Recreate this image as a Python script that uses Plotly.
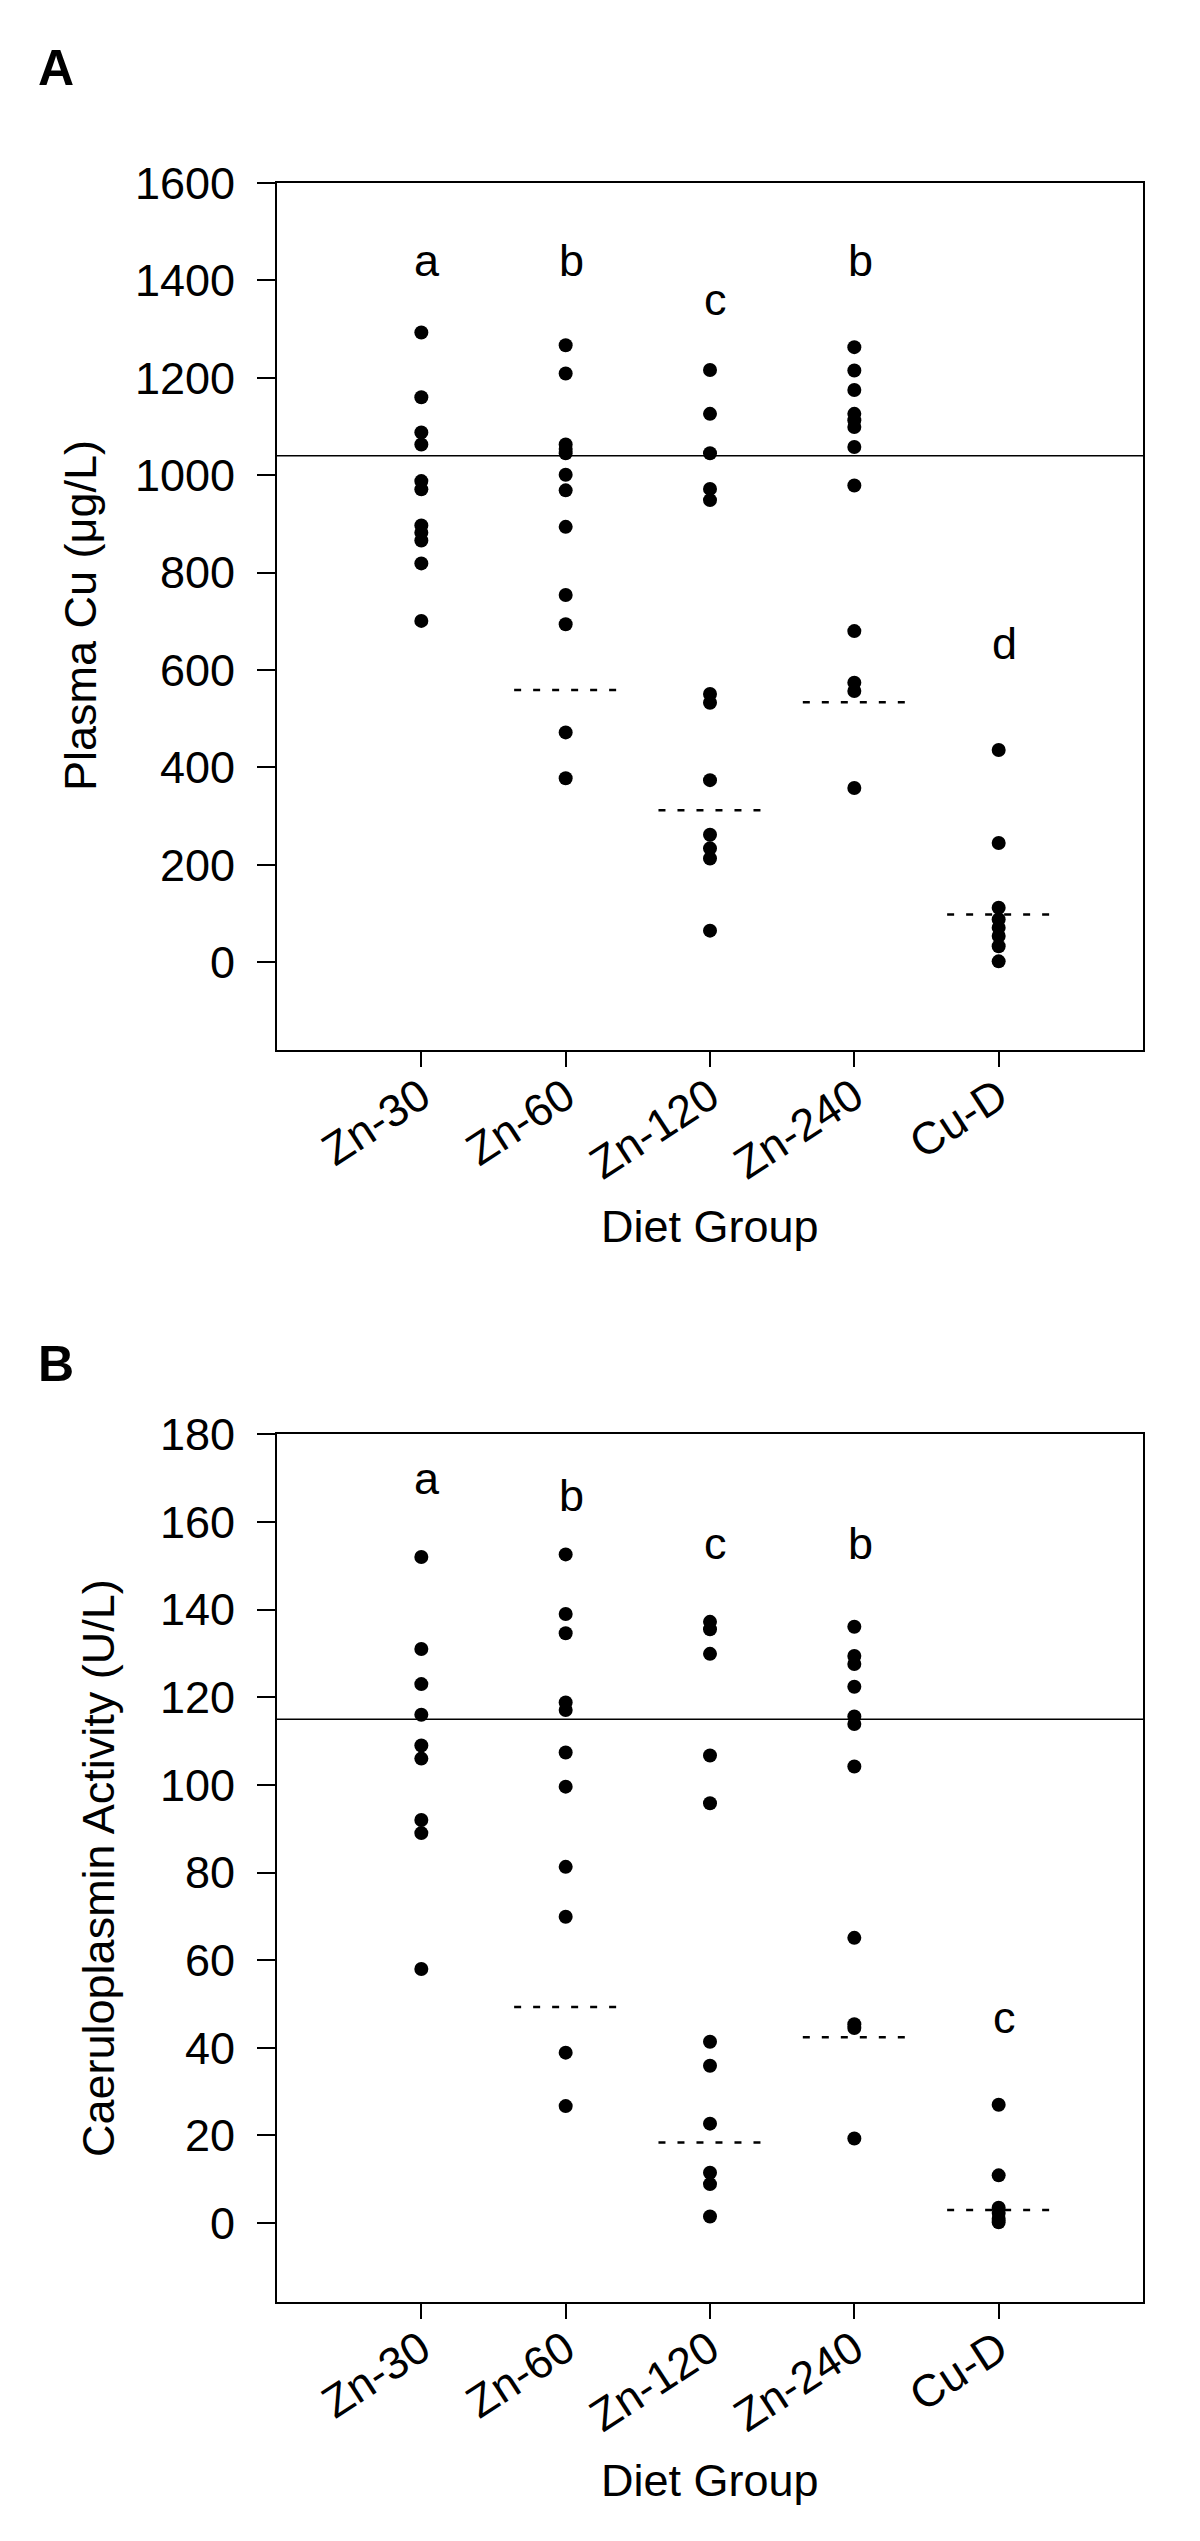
import plotly.graph_objects as go

# ---------------- data ----------------
groups = ["Zn-30", "Zn-60", "Zn-120", "Zn-240", "Cu-D"]
group_pos = [1, 2, 3, 4, 5]

# Panel A: Plasma Cu (ug/L)
cu_zn30 = [1293, 1160, 1088, 1063, 988, 971, 897, 882, 866, 819, 701]
cu_zn60 = [1267, 1209, 1063, 1054, 1045, 1001, 969, 894, 754, 694, 472, 378]
cu_zn120 = [1216, 1126, 1045, 972, 949, 551, 533, 374, 262, 234, 213, 65]
cu_zn240 = [1263, 1215, 1175, 1126, 1113, 1099, 1058, 979, 680, 574, 557, 358]
cu_cud = [436, 245, 112, 88, 71, 54, 33, 2]
cu_ref_line = 1040
cu_group_ref = [None, 559, 312, 534, 98]
cu_letters = ["a", "b", "c", "b", "d"]
cu_letter_y = [1440, 1440, 1360, 1440, 655]
cu_ticks = [0, 200, 400, 600, 800, 1000, 1200, 1400, 1600]

# Panel B: Caeruloplasmin activity (U/L)
cp_zn30 = [152, 131, 123, 116, 109, 106, 92, 89, 58]
cp_zn60 = [152.6, 139, 134.6, 118.8, 117.1, 107.4, 99.6, 81.3, 69.9, 38.9, 26.7]
cp_zn120 = [137.2, 135.5, 129.9, 106.7, 95.8, 41.4, 35.9, 22.7, 11.5, 8.9, 1.5]
cp_zn240 = [136.1, 129.4, 127.6, 122.4, 115.6, 113.9, 104.2, 65.1, 45.4, 44.5, 19.3]
cp_cud = [27.0, 10.9, 3.5, 2.3, 1.0, 0.2]
cp_ref_line = 115
cp_group_ref = [None, 49.3, 18.4, 42.4, 3.0]
cp_letters = ["a", "b", "c", "b", "c"]
cp_letter_y = [170, 166, 155, 155, 47]
cp_ticks = [0, 20, 40, 60, 80, 100, 120, 140, 160, 180]

FONT = "Arial, Liberation Sans, sans-serif"
W, H = 1200, 2541

fig = go.Figure()

panels = [
    dict(series=[cu_zn30, cu_zn60, cu_zn120, cu_zn240, cu_cud], ref=cu_ref_line,
         gref=cu_group_ref, letters=cu_letters, ly=cu_letter_y, xa="x", ya="y"),
    dict(series=[cp_zn30, cp_zn60, cp_zn120, cp_zn240, cp_cud], ref=cp_ref_line,
         gref=cp_group_ref, letters=cp_letters, ly=cp_letter_y, xa="x2", ya="y2"),
]

for p in panels:
    fig.add_trace(go.Scatter(x=[0, 6], y=[p["ref"], p["ref"]], mode="lines",
                             line=dict(color="black", width=1.5),
                             xaxis=p["xa"], yaxis=p["ya"], showlegend=False, hoverinfo="skip"))
    for pos, g in zip(group_pos, p["gref"]):
        if g is None:
            continue
        fig.add_trace(go.Scatter(x=[pos - 0.357, pos + 0.357], y=[g, g], mode="lines",
                                 line=dict(color="black", width=2.5, dash="7px,12px"),
                                 xaxis=p["xa"], yaxis=p["ya"], showlegend=False, hoverinfo="skip"))
    for pos, vals in zip(group_pos, p["series"]):
        fig.add_trace(go.Scatter(x=[pos] * len(vals), y=vals, mode="markers",
                                 marker=dict(color="black", size=14, line=dict(width=0)),
                                 xaxis=p["xa"], yaxis=p["ya"], showlegend=False))
    for pos, lt, ly in zip(group_pos, p["letters"], p["ly"]):
        fig.add_annotation(x=pos + 0.04, y=ly, xref=p["xa"], yref=p["ya"], text=lt,
                           showarrow=False, xanchor="center", yanchor="middle",
                           font=dict(family=FONT, size=45, color="black"))

def py(pix):
    return 1 - pix / H

xdom = [277 / W, 1143 / W]
axis_common = dict(showline=True, linecolor="black", linewidth=2, mirror=True,
                   showgrid=False, zeroline=False, automargin=False,
                   tickfont=dict(family=FONT, size=45, color="black"))

xaxis_cfg = dict(axis_common, range=[0, 6], tickvals=group_pos, ticktext=groups,
                 ticks="outside", ticklen=15, tickwidth=1.5, tickcolor="black",
                 tickangle=-33, ticklabelstandoff=-14, domain=xdom)

fig.update_layout(
    width=W, height=H,
    margin=dict(l=0, r=0, t=0, b=0, autoexpand=False),
    paper_bgcolor="white", plot_bgcolor="white",
    xaxis=dict(xaxis_cfg, anchor="y"),
    yaxis=dict(axis_common, range=[-179, 1600], tickvals=cu_ticks,
               ticks="outside", ticklen=18, tickwidth=1.5, tickcolor="black",
               ticklabelstandoff=13,
               domain=[py(1049.5), py(183)], anchor="x"),
    xaxis2=dict(xaxis_cfg, anchor="y2"),
    yaxis2=dict(axis_common, range=[-18, 180], tickvals=cp_ticks,
                ticks="outside", ticklen=18, tickwidth=1.5, tickcolor="black",
                ticklabelstandoff=13,
                domain=[py(2302), py(1434.3)], anchor="x2"),
)

# panel letters
fig.add_annotation(x=36 / W, y=py(68), xref="paper", yref="paper", text="<b>A</b>",
                   showarrow=False, xanchor="left", yanchor="middle",
                   font=dict(family=FONT, size=50, color="black"))
fig.add_annotation(x=36 / W, y=py(1364), xref="paper", yref="paper", text="<b>B</b>",
                   showarrow=False, xanchor="left", yanchor="middle",
                   font=dict(family=FONT, size=50, color="black"))

# axis titles
fig.add_annotation(x=80 / W, y=py(616), xref="paper", yref="paper",
                   text="Plasma Cu (\u03bcg/L)", textangle=-90, showarrow=False,
                   xanchor="center", yanchor="middle",
                   font=dict(family=FONT, size=45, color="black"))
fig.add_annotation(x=98 / W, y=py(1868), xref="paper", yref="paper",
                   text="Caeruloplasmin Activity (U/L)", textangle=-90, showarrow=False,
                   xanchor="center", yanchor="middle",
                   font=dict(family=FONT, size=45, color="black"))
fig.add_annotation(x=710 / W, y=py(1226), xref="paper", yref="paper",
                   text="Diet Group", showarrow=False, xanchor="center", yanchor="middle",
                   font=dict(family=FONT, size=45, color="black"))
fig.add_annotation(x=710 / W, y=py(2480), xref="paper", yref="paper",
                   text="Diet Group", showarrow=False, xanchor="center", yanchor="middle",
                   font=dict(family=FONT, size=45, color="black"))

fig.write_html("out.html", config={"displayModeBar": False},
               post_script="document.body.style.margin='0';document.body.style.padding='0';")
